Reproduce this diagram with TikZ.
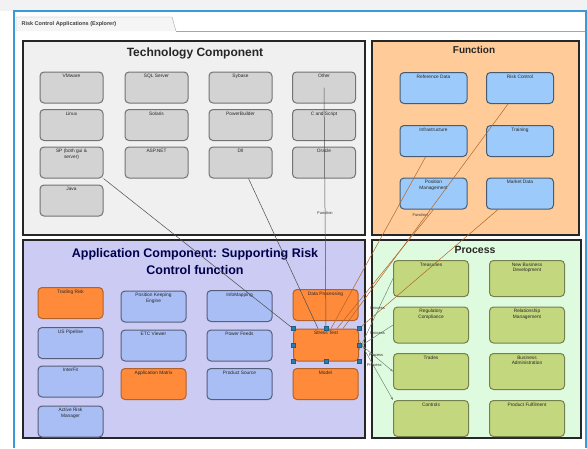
\documentclass[tikz,border=0pt]{standalone}
\usepackage{fontspec}
\setmainfont{Liberation Sans}
\usetikzlibrary{arrows.meta}

\definecolor{frameblue}{HTML}{3A9AD9}
\definecolor{techbg}{HTML}{F0F0F0}
\definecolor{techgrey}{HTML}{D3D3D3}
\definecolor{funcbg}{HTML}{FFCC99}
\definecolor{funcblue}{HTML}{9CCBFB}
\definecolor{appbg}{HTML}{CBCBF3}
\definecolor{appblue}{HTML}{A9BEF4}
\definecolor{apporange}{HTML}{FF8A3A}
\definecolor{procbg}{HTML}{DFFBDF}
\definecolor{procgreen}{HTML}{C3D77E}
\definecolor{funcline}{HTML}{B0652A}
\definecolor{procline}{HTML}{6E8C72}

\begin{document}
\begin{tikzpicture}[x=1pt,y=-1pt,
    group/.style={draw=black!85, line width=2.6pt},
    grouptitle/.style={font=\bfseries\fontsize{12}{14.5}\selectfont, align=center, text=black!85},
    boxtext/.style={anchor=north, inner sep=2.5pt, align=center, font=\fontsize{4.8}{5.6}\selectfont, text=black!85},
    item/.style={rounded corners=4pt, line width=1pt, minimum width=65pt, minimum height=31pt, inner sep=0pt, label={[boxtext]north:#1}},
    techbox/.style={item={#1}, draw=black!55, fill=techgrey, minimum width=63pt},
    funcbox/.style={item={#1}, draw=funcblue!45!black, fill=funcblue, minimum width=67pt},
    appbox/.style={item={#1}, draw=appblue!50!black, fill=appblue},
    hotbox/.style={item={#1}, draw=apporange!70!black, fill=apporange},
    procbox/.style={item={#1}, draw=procgreen!60!black, fill=procgreen, minimum width=75pt, minimum height=36pt},
    techlink/.style={draw=black!70, line width=0.5pt},
    funclink/.style={draw=funcline, line width=0.5pt},
    proclink/.style={draw=procline, line width=0.5pt},
    linktext/.style={font=\fontsize{4}{4.5}\selectfont, text=black!80, inner sep=0.5pt},
    handle/.style={draw=frameblue!60!black, fill=frameblue!80!black, line width=0.3pt}
]

    \useasboundingbox (0,0) rectangle (587,448);
    \fill[white] (0,0) rectangle (587,448);
    \fill[black!5] (0,0) rectangle (587,11);

    % the explorer window and its tab
    \draw[frameblue, line width=1.5pt] (14,448) -- (14,11) -- (586,11) -- (586,448);
    \draw[black!35, fill=black!4] (16,31) -- (16,17) -- (172,17) -- (176,31);
    \draw[black!35] (176,31) -- (585,31);
    \node[anchor=west, font=\bfseries\fontsize{5.5}{6}\selectfont, text=black!75] (tab) at (18,24) {Risk Control Applications (Explorer)};

    % the four groups
    \filldraw[group, fill=techbg] (23,41) rectangle (365,235);
    \filldraw[group, fill=funcbg] (372,41) rectangle (579,235);
    \filldraw[group, fill=appbg] (23,240) rectangle (365,438);
    \filldraw[group, fill=procbg] (372,240) rectangle (581,438);

    \node[grouptitle] (techtitle) at (195,53) {Technology Component};
    \node[grouptitle, font=\bfseries\fontsize{10}{11}\selectfont] (functitle) at (474,50) {Function};
    \node[grouptitle, font=\bfseries\fontsize{12.5}{17}\selectfont, text=black!70!blue] (apptitle) at (195,262) {Application Component: Supporting Risk\\Control function};
    \node[grouptitle, font=\bfseries\fontsize{10.5}{11}\selectfont] (proctitle) at (475,250) {Process};

    % technology
    \node[techbox={VMware}] (vmware) at (71.5,87.5) {};
    \node[techbox={SQL Server}] (sqlserver) at (156.5,87.5) {};
    \node[techbox={Sybase}] (sybase) at (240.5,87.5) {};
    \node[techbox={Other}] (other) at (324,87.5) {};
    \node[techbox={Linux}] (linux) at (71.5,125) {};
    \node[techbox={Solaris}] (solaris) at (156.5,125) {};
    \node[techbox={PowerBuilder}] (powerbuilder) at (240.5,125) {};
    \node[techbox={C and Script}] (cscript) at (324,125) {};
    \node[techbox={SP (both gui \&\\ server)}] (sp) at (71.5,162.5) {};
    \node[techbox={ASP.NET}] (aspnet) at (156.5,162.5) {};
    \node[techbox={Dll}] (dll) at (240.5,162.5) {};
    \node[techbox={Oracle}] (oracle) at (324,162.5) {};
    \node[techbox={Java}] (java) at (71.5,200.5) {};

    % function
    \node[funcbox={Reference Data}] (refdata) at (433.5,88) {};
    \node[funcbox={Risk Control}] (riskctrl) at (520,88) {};
    \node[funcbox={Infrastructure}] (infra) at (433.5,141) {};
    \node[funcbox={Training}] (training) at (520,141) {};
    \node[funcbox={Position\\Management}] (posmgmt) at (433.5,193.5) {};
    \node[funcbox={Market Data}] (mktdata) at (520,193.5) {};

    % application
    \node[hotbox={Trading Risk}] (tradingrisk) at (70.5,303) {};
    \node[appbox={US Pipeline}] (uspipe) at (70.5,343) {};
    \node[appbox={InterFit}] (interfit) at (70.5,381.5) {};
    \node[appbox={Active Risk\\Manager}] (activerisk) at (70.5,421.5) {};
    \node[appbox={Position Keeping\\Engine}] (poskeep) at (153.5,306.5) {};
    \node[appbox={ETC Viewer}] (etcview) at (153.5,345.5) {};
    \node[hotbox={Application Matrix}] (appmatrix) at (153.5,384) {};
    \node[appbox={InfoMapping}] (infomap) at (239.5,306) {};
    \node[appbox={Power Feeds}] (powerfeeds) at (239.5,345.5) {};
    \node[appbox={Product Source}] (prodsource) at (239.5,384) {};
    \node[hotbox={Data Processing}] (dataproc) at (325.5,305) {};
    \node[hotbox={Stress Test}, minimum height=32pt] (sel) at (326,345) {};
    \node[hotbox={Model}] (model) at (325.5,384) {};

    % process
    \node[procbox={Treasuries}] (treasuries) at (431,278.5) {};
    \node[procbox={New Business\\Development}] (newbiz) at (527,278.5) {};
    \node[procbox={Regulatory\\Compliance}] (regcomp) at (431,325) {};
    \node[procbox={Relationship\\Management}] (relmgmt) at (527,325) {};
    \node[procbox={Trades}] (trades) at (431,371.5) {};
    \node[procbox={Business\\Administration}] (bizadmin) at (527,371.5) {};
    \node[procbox={Controls}] (controls) at (431,418.5) {};
    \node[procbox={Product Fulfilment}] (prodfulfil) at (527,418.5) {};

    % links into the selected application
    \draw[techlink] (sp.south east) -- (sel.north west);
    \draw[techlink] ([xshift=8pt]dll.south) -- ([xshift=-8pt]sel.north);
    \draw[techlink] (other.center) -- node[linktext, pos=0.52] {Function} (sel.north);
    \draw[funclink] ([xshift=-8pt]infra.south) -- ([xshift=5pt]sel.north);
    \draw[funclink] (posmgmt.south) -- node[linktext, pos=0.05, left] {Function} ([xshift=11pt]sel.north);
    \draw[funclink] ([xshift=-12pt]riskctrl.south) -- ([xshift=17pt]sel.north);
    \draw[funclink] ([xshift=-22pt]mktdata.south) -- (sel.north east);
    \draw[proclink] ([yshift=-5pt]sel.east) -- node[linktext, pos=0.55, above] {Process} (treasuries.west);
    \draw[proclink] ([yshift=-2pt]sel.east) -- node[linktext, pos=0.55, above] {Process} (regcomp.west);
    \draw[proclink, -{Stealth[length=3pt]}] ([yshift=2pt]sel.east) -- node[linktext, pos=0.5, above] {Process} (trades.west);
    \draw[proclink, -{Stealth[length=3pt]}] ([yshift=5pt]sel.east) -- node[linktext, pos=0.45, above] {Process} (controls.north west);

    % selection handles
    \foreach \a in {north west,north,north east,east,south east,south,south west,west}
        \filldraw[handle] (sel.\a) ++(-2,-2) rectangle ++(4,4);

\end{tikzpicture}
\end{document}
